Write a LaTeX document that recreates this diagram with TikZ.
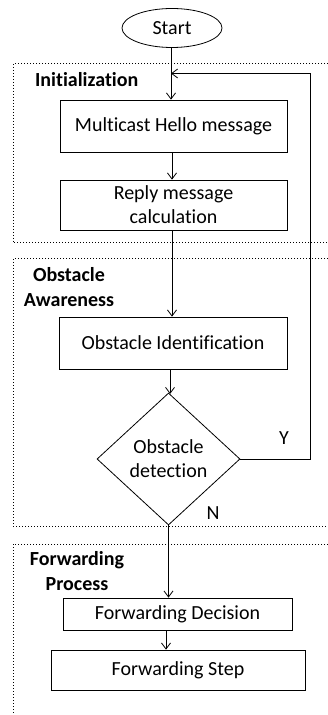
\documentclass[tikz,border=0pt]{standalone}
\usepackage{fontspec}
\setmainfont[Ligatures=NoCommon]{Carlito}
\usetikzlibrary{shapes.geometric,arrows.meta}

\begin{document}
\begin{tikzpicture}[x=0.5pt,y=-0.5pt,
        >={Straight Barb[length=3pt,width=4.5pt]},
        font=\fontsize{10}{12}\selectfont,
        procbox/.style={draw,rectangle,inner sep=0pt,align=center},
        stagebox/.style={densely dotted,line width=0.5pt},
        stagelabel/.style={font=\fontsize{10}{12.5}\selectfont\bfseries,align=center}]
                \useasboundingbox (0,0) rectangle (327,715);

                \draw[stagebox] (340,64) -| (13,243) -- (340,243);
                \draw[stagebox] (340,259) -| (13,526) -- (340,526);
                \draw[stagebox] (340,544) -| (13,730);

                \node[stagelabel,anchor=west] (initlabel) at (28,80) {Initialization};
                \node[stagelabel] (awarelabel) at (69,287) {Obstacle\\Awareness};
                \node[stagelabel] (fwdlabel) at (77,571) {Forwarding\\Process};

                \node[draw,ellipse,minimum width=50pt,minimum height=19.5pt,inner sep=0pt] (start) at (172,28) {Start};
                \node[procbox,minimum width=113.5pt,minimum height=26pt] (multicast) at (173.5,126) {Multicast Hello message};
                \node[procbox,minimum width=113.5pt,minimum height=25pt] (reply) at (173.5,205) {Reply message\\calculation};
                \node[procbox,minimum width=114pt,minimum height=26pt] (identify) at (173,343) {Obstacle Identification};
                \node[draw,diamond,minimum width=71.5pt,minimum height=66pt,inner sep=0pt,align=center] (detect) at (168.5,459) {Obstacle\\detection};
                \node[procbox,minimum width=114.5pt,minimum height=16pt] (decision) at (177.5,614) {Forwarding Decision};
                \node[procbox,minimum width=127pt,minimum height=20pt] (fwdstep) at (178,670) {Forwarding Step};

                \node (yes) at (284,438) {Y};
                \node (no) at (213,513) {N};

                \coordinate (loopcorner) at (310,73.5);
                \coordinate (loopend) at (171,73.5);

                \draw[->] ([xshift=-0.5pt]start.south) -- ([xshift=-0.5pt]start.south |- multicast.north);
                \draw[->] ([xshift=-0.75pt]multicast.south) -- ([xshift=-0.75pt]reply.north);
                \draw[->] ([xshift=-0.75pt]reply.south) -- ([xshift=-0.75pt]reply.south |- identify.north);
                \draw[->] ([xshift=0.75pt]detect.north |- identify.south) -- ([xshift=0.75pt]detect.north |- 0,394);
                \draw[->] (detect.south) -- (detect.south |- decision.north);
                \draw[->] ([xshift=-5.75pt]decision.south) -- ([xshift=-5.75pt]decision.south |- fwdstep.north);
                \draw[->] (detect.east) -| (loopcorner) -- (loopend);

\end{tikzpicture}
\end{document}
